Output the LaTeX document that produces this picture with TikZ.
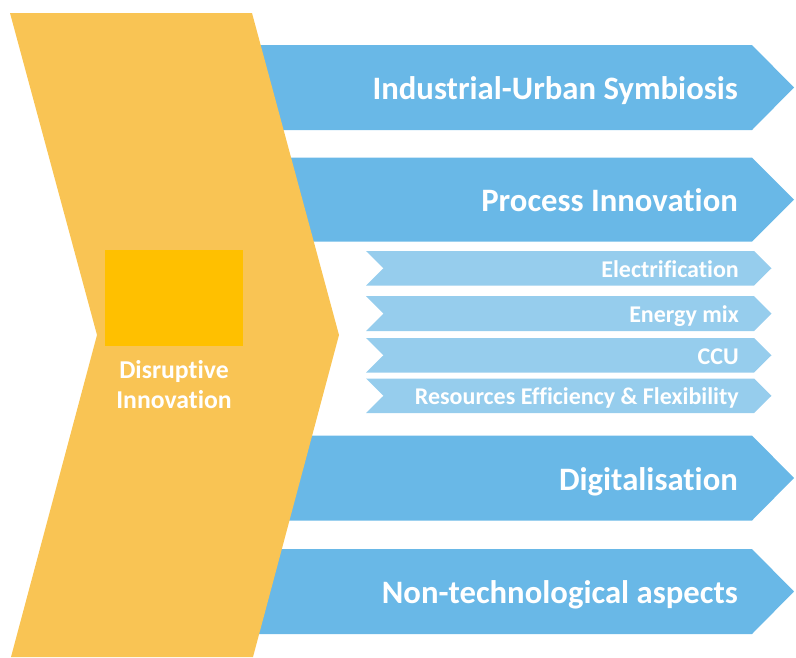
\documentclass[tikz,border=0pt]{standalone}
\usepackage{fontspec}
\setmainfont{Carlito}[Ligatures=NoCommon]
\definecolor{chev}{HTML}{F9C454}
\definecolor{bigblue}{HTML}{69B8E7}
\definecolor{subblue}{HTML}{96CDED}
\definecolor{sq}{HTML}{FFC000}
\begin{document}
\begin{tikzpicture}[x=1pt,y=-1pt,
  biglabel/.style={anchor=base east,inner sep=0pt,text=white,font=\fontsize{32.7}{36}\selectfont\bfseries},
  sublabel/.style={anchor=base east,inner sep=0pt,text=white,font=\fontsize{24}{27}\selectfont\bfseries},
  dislabel/.style={anchor=base,inner sep=0pt,text=white,font=\fontsize{25.7}{28}\selectfont\bfseries}]
\useasboundingbox (0,0) rectangle (796,657);
% big blue arrows
\foreach \t/\b/\txt/\n in {45/130/Industrial-Urban Symbiosis/ius,157.5/241.5/Process Innovation/pin,435.5/520.5/Digitalisation/dig,549/634/Non-technological aspects/nta}{
  \fill[bigblue] (200,\t) -- (752,\t) -- (794,{(\t+\b)/2}) -- (752,\b) -- (200,\b) -- cycle;
  \node[biglabel] (\n) at (738,{(\t+\b)/2+12}) {\txt};
}
% sub arrows
\foreach \t/\b/\txt/\n in {251/285.5/Electrification/ele,296/331/Energy mix/emx,338/372.5/CCU/ccu,378.5/413/Resources Efficiency \& Flexibility/ref}{
  \fill[subblue] (366,\t) -- (754,\t) -- (771.5,{(\t+\b)/2}) -- (754,\b) -- (366,\b) -- (383.5,{(\t+\b)/2}) -- cycle;
  \node[sublabel] (\n) at (739,{(\t+\b)/2+9}) {\txt};
}
% yellow chevron
\fill[chev] (10,13) -- (252,13) -- (339,335) -- (253,657) -- (11,657) -- (97,335) -- cycle;
\fill[sq] (105,250) rectangle (243,346);
\node[dislabel] (dis1) at (174,378.5) {Disruptive};
\node[dislabel] (dis2) at (174,408) {Innovation};
\end{tikzpicture}
\end{document}
